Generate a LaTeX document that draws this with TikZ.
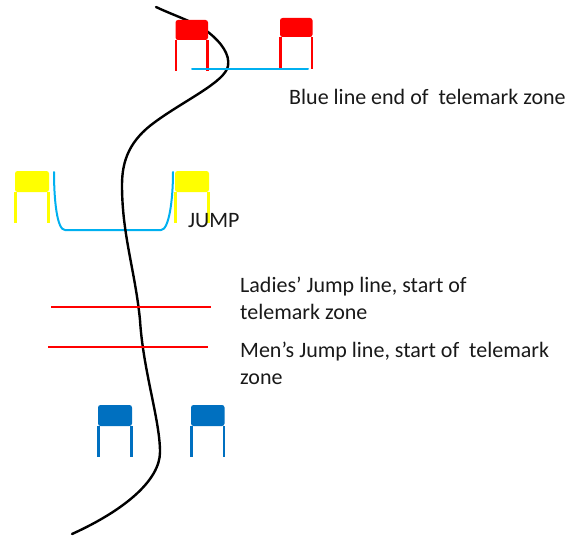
\documentclass[tikz,border=0pt]{standalone}
\usepackage{fontspec}
\setmainfont{Carlito}
\definecolor{gatered}{RGB}{255,0,0}
\definecolor{gateyellow}{RGB}{255,255,0}
\definecolor{gateblue}{RGB}{0,112,192}
\definecolor{linkblue}{RGB}{0,176,240}
\tikzset{
  seat/.style={fill=#1,draw=none,rounded corners=2.5pt},
  leg/.style={fill=#1,draw=none},
  course/.style={draw=black,line width=2.4pt,line cap=round},
  tele/.style={draw=linkblue,line width=2pt,line cap=round},
  jumpline/.style={draw=gatered,line width=1.6pt},
  lab/.style={inner sep=0pt,anchor=base west,align=left,font=\fontsize{22}{27}\selectfont,text=black!90}
}
\newcommand{\gate}[6]{% x1 x2 top mid bottom color
  \fill[seat=#6] (#1-0.5,#3) rectangle (#2+0.5,#4);
  \fill[leg=#6] (#1-1.2,#4) rectangle (#1+1.2,#5);
  \fill[leg=#6] (#2-1.2,#4) rectangle (#2+1.2,#5);
}
\begin{document}
\begin{tikzpicture}[x=1pt,y=-1pt]
\useasboundingbox (0,0) rectangle (567,535);
% U-shaped telemark line
\draw[tele] (54,172) .. controls (54,200) and (57,230) .. (65,230) -- (161,230)
  .. controls (169,230) and (173,200) .. (173,172);
% course
\draw[course] (156,7) .. controls (175,16) and (195,22) .. (208,32)
  .. controls (222,43) and (230,55) .. (228,66)
  .. controls (225,82) and (185,100) .. (155,122)
  .. controls (130,140) and (122,160) .. (122,185)
  .. controls (122,235) and (135,270) .. (140,320)
  .. controls (143,370) and (160,420) .. (160,452)
  .. controls (160,480) and (125,510) .. (72,534);
% gates
\gate{176}{207.5}{20}{40}{71}{gatered}
\gate{280.5}{312}{18}{37}{69}{gatered}
\gate{15.5}{48.5}{171}{192}{223}{gateyellow}
\gate{175.5}{208.5}{171}{192}{223}{gateyellow}
\gate{98.5}{131.5}{405}{426}{457}{gateblue}
\gate{191.5}{224}{405}{426}{457}{gateblue}
% lines
\draw[tele] (192,68.5) -- (308,68.5);
\draw[jumpline] (51,307) -- (211,307);
\draw[jumpline] (48,347) -- (208,347);
% labels
\node[lab] (t1) at (289,104) {Blue line end of\ \ telemark zone};
\node[lab] (t2) at (188,227) {JUMP};
\node[lab] (t3) at (240,319) {Ladies’ Jump line, start of\\telemark zone};
\node[lab] (t4) at (240,384) {Men’s Jump line, start of\ \ telemark\\zone};
\end{tikzpicture}
\end{document}
